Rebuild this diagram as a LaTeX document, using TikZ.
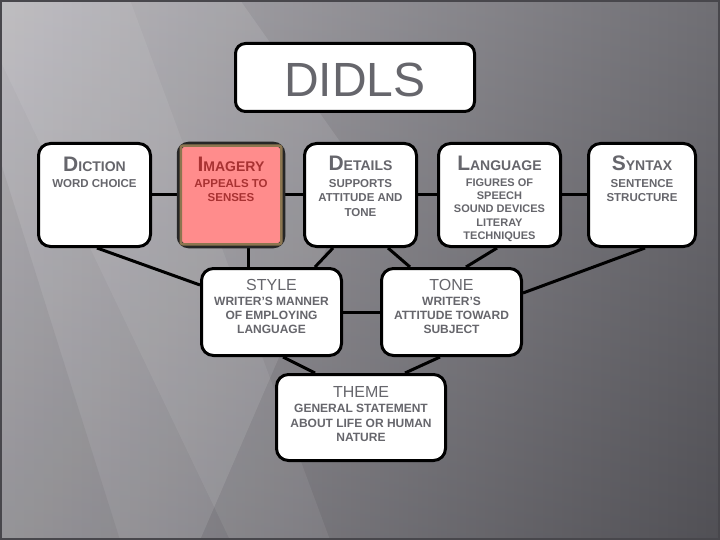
\documentclass[tikz,border=0pt]{standalone}
\usepackage{fontspec}
\setmainfont{Liberation Sans}
\usetikzlibrary{calc}
\definecolor{txtgray}{HTML}{66666C}
\definecolor{imgfill}{HTML}{FF8C8C}
\definecolor{imgtxt}{HTML}{A83232}
\definecolor{imgborder}{HTML}{8C7650}
\definecolor{bgleft}{HTML}{A8A6AC}
\definecolor{bgright}{HTML}{5C5B61}
\definecolor{frameline}{HTML}{48474C}
\pgfdeclarelayer{bg}
\pgfdeclarelayer{background}
\pgfsetlayers{bg,background,main}
\newcommand{\capsc}[2]{{\fontsize{21}{21}\selectfont #1}{\fontsize{14}{14}\selectfont #2}}
\begin{document}
\begin{tikzpicture}[x=1pt,y=-1pt,
  box/.style={draw=black, line width=3pt, fill=white, rounded corners=12pt, inner sep=0pt},
  ttl/.style={anchor=base, inner sep=0pt, text=txtgray, font=\bfseries},
  bigttl/.style={anchor=base, inner sep=0pt, text=txtgray, font=\fontsize{16}{16}\selectfont},
  bodytxt/.style={anchor=north, inner sep=0pt, align=center, text=txtgray, font=\fontsize{11.5}{14.3}\selectfont\bfseries},
  conn/.style={draw=black, line width=3pt}]

% background
\begin{pgfonlayer}{bg}
\shade[left color=bgleft, right color=bgright] (0,0) rectangle (720,540);
\shade[top color=white, bottom color=black, opacity=0.12] (0,0) rectangle (720,540);
\fill[white, opacity=0.10] (0,0) -- (240,0) -- (360,170) -- (200,540) -- (0,540) -- cycle;
\fill[white, opacity=0.07] (0,0) -- (130,0) -- (330,540) -- (230,540) -- (0,60) -- cycle;
\fill[black, opacity=0.05] (0,160) -- (0,540) -- (120,540) -- cycle;
\draw[frameline, line width=2pt] (1,1) rectangle (719,539);
\end{pgfonlayer}

% title
\node[box, rounded corners=10pt, minimum width=239pt, minimum height=68pt] (didls) at (355,77.5) {};
\node[anchor=base, inner sep=0pt, text=txtgray, font=\fontsize{48}{48}\selectfont] (didlsT) at (355,97) {DIDLS};

% top row
\node[box, minimum width=112pt, minimum height=103pt] (diction) at (94.5,195) {};
\node[draw=black!85, line width=3.5pt, fill=imgfill, rounded corners=10pt, minimum width=105pt, minimum height=103pt, inner sep=0pt] (imagery) at (231,195) {};
\draw[imgborder, line width=2.5pt, rounded corners=2pt] ([shift={(4,4)}]imagery.north west) rectangle ([shift={(-4,-4)}]imagery.south east);
\node[box, minimum width=112pt, minimum height=103pt] (details) at (360.5,195) {};
\node[box, minimum width=122pt, minimum height=103pt] (language) at (499.5,195) {};
\node[box, minimum width=107pt, minimum height=103pt] (syntax) at (642,195) {};

% middle row
\node[box, minimum width=140pt, minimum height=87pt] (style) at (271.5,312) {};
\node[box, minimum width=140pt, minimum height=87pt] (tone) at (451.5,312) {};
% bottom
\node[box, minimum width=169pt, minimum height=86pt] (theme) at (361,417.5) {};

% connectors
\begin{pgfonlayer}{background}
\draw[conn] (diction) -- (imagery);
\draw[conn] (imagery) -- (details);
\draw[conn] (details) -- (language);
\draw[conn] (language) -- (syntax);
\draw[conn] (style) -- (tone);
\draw[conn] ([shift={(2.5,0)}]diction.south) -- ([shift={(0,-27)}]style.west);
\draw[conn] ([shift={(17,0)}]imagery.south) -- ([shift={(17,0)}]imagery.south |- style.north);
\draw[conn] ([shift={(-27.5,0)}]details.south) -- ([shift={(43.5,0)}]style.north);
\draw[conn] ([shift={(27.5,0)}]details.south) -- ([shift={(-41.5,0)}]tone.north);
\draw[conn] ([shift={(-2.5,0)}]language.south) -- ([shift={(14.5,0)}]tone.north);
\draw[conn] ([shift={(3,0)}]syntax.south) -- ([shift={(0,-19)}]tone.east);
\draw[conn] ([shift={(11.5,0)}]style.south) -- ([shift={(-46,0)}]theme.north);
\draw[conn] ([shift={(-11.5,0)}]tone.south) -- ([shift={(44,0)}]theme.north);
\end{pgfonlayer}

% texts top row
\node[ttl] (dictionT) at (94.5,172) {\capsc{D}{ICTION}};
\node[bodytxt] (dictionB) at (94.5,179.4) {WORD CHOICE};
\node[ttl, text=imgtxt] (imageryT) at (231,172) {\capsc{I}{MAGERY}};
\node[bodytxt, text=imgtxt] (imageryB) at (231,179.4) {APPEALS TO\\SENSES};
\node[ttl] (detailsT) at (360.5,171) {\capsc{D}{ETAILS}};
\node[bodytxt, font=\fontsize{11.5}{14.5}\selectfont\bfseries] (detailsB) at (360.5,179.2) {SUPPORTS\\ATTITUDE AND\\TONE};
\node[ttl] (languageT) at (499.5,170.5) {\capsc{L}{ANGUAGE}};
\node[bodytxt, font=\fontsize{11}{13.3}\selectfont\bfseries] (languageB) at (499.5,178.5) {FIGURES OF\\SPEECH\\SOUND DEVICES\\LITERAY\\TECHNIQUES};
\node[ttl] (syntaxT) at (642,171) {\capsc{S}{YNTAX}};
\node[bodytxt] (syntaxB) at (642,179.4) {SENTENCE\\STRUCTURE};

% texts middle
\node[bigttl] (styleT) at (271.5,290.5) {STYLE};
\node[bodytxt, font=\fontsize{12}{14}\selectfont\bfseries] (styleB) at (271.5,297.4) {WRITER’S MANNER\\OF EMPLOYING\\LANGUAGE};
\node[bigttl] (toneT) at (451.5,290.5) {TONE};
\node[bodytxt, font=\fontsize{12}{14}\selectfont\bfseries] (toneB) at (451.5,297.4) {WRITER’S\\ATTITUDE TOWARD\\SUBJECT};
\node[bigttl] (themeT) at (361,397) {THEME};
\node[bodytxt, font=\fontsize{12}{14.5}\selectfont\bfseries] (themeB) at (361,404.4) {GENERAL STATEMENT\\ABOUT LIFE OR HUMAN\\NATURE};
\end{tikzpicture}
\end{document}
